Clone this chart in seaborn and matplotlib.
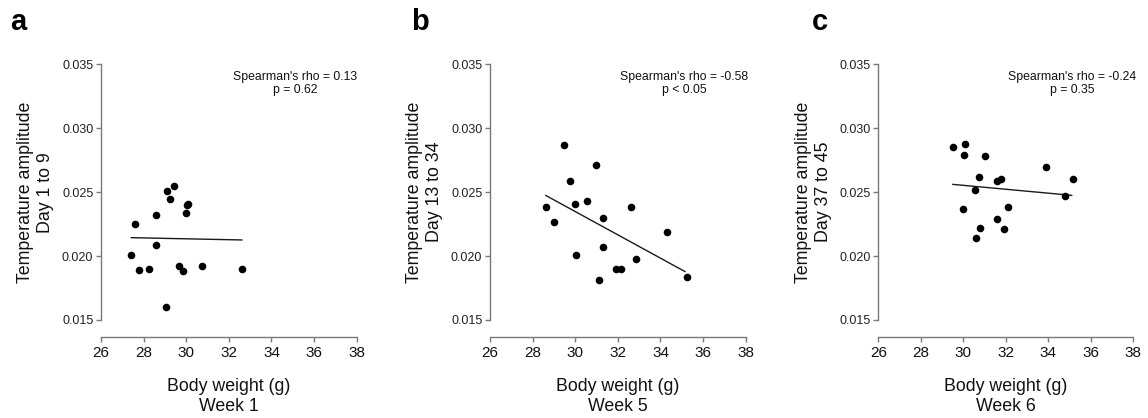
import matplotlib
matplotlib.use("Agg")
import matplotlib.pyplot as plt
import seaborn as sns
import pandas as pd
import numpy as np

sns.set_theme(style="white")
plt.rcParams['font.family'] = ['Liberation Sans', 'DejaVu Sans']

# ---------------- data ----------------
weight_w1 = [27.41, 27.60, 27.77, 28.24, 28.57, 28.60, 29.05, 29.10, 29.25, 29.43,
             29.65, 29.83, 29.97, 30.03, 30.07, 30.74, 32.62]
amp_d1_9 = [0.0201, 0.0225, 0.0189, 0.0190, 0.0209, 0.0232, 0.0160, 0.0251, 0.0245, 0.0255,
            0.0192, 0.0188, 0.0234, 0.0240, 0.0241, 0.0192, 0.0190]

weight_w5 = [28.61, 29.00, 29.47, 29.74, 29.99, 30.04, 30.54, 30.96, 31.12, 31.29,
             31.32, 31.93, 32.13, 32.64, 32.87, 34.29, 35.23]
amp_d13_34 = [0.0238, 0.0227, 0.0287, 0.0259, 0.0241, 0.0201, 0.0243, 0.0271, 0.0181, 0.0230,
              0.0207, 0.0190, 0.0190, 0.0238, 0.0198, 0.0219, 0.0184]

weight_w6 = [29.50, 30.09, 30.05, 31.04, 30.75, 30.56, 31.60, 31.79, 30.00, 30.78,
             30.61, 31.58, 31.90, 32.10, 33.89, 34.80, 35.18]
amp_d37_45 = [0.0285, 0.0288, 0.0279, 0.0278, 0.0262, 0.0252, 0.0259, 0.0260, 0.0237, 0.0222,
              0.0214, 0.0229, 0.0221, 0.0238, 0.0270, 0.0247, 0.0260]

# fitted trend lines (endpoints)
fit_x_a = [27.41, 32.62]
fit_y_a = [0.02144, 0.02126]
fit_x_b = [28.61, 35.16]
fit_y_b = [0.02475, 0.01878]
fit_x_c = [29.50, 35.11]
fit_y_c = [0.02561, 0.02475]

panel_letters = ["a", "b", "c"]
ylabels = ["Temperature amplitude\nDay 1 to 9",
           "Temperature amplitude\nDay 13 to 34",
           "Temperature amplitude\nDay 37 to 45"]
xlabels = ["Body weight (g)\nWeek 1", "Body weight (g)\nWeek 5", "Body weight (g)\nWeek 6"]
stats = ["Spearman's rho = 0.13\np = 0.62",
         "Spearman's rho = -0.58\np < 0.05",
         "Spearman's rho = -0.24\np = 0.35"]
xticks = [26, 28, 30, 32, 34, 36, 38]
yticks = [0.015, 0.020, 0.025, 0.030, 0.035]

# ---------------- figure ----------------
W, H = 1148, 418
fig = plt.figure(figsize=(W / 100, H / 100), dpi=100)

lefts = [101, 490, 878.3]
widths = [255.7, 255.7, 255.0]
top_px, bottom_px = 64.3, 337.0
letter_x = [10, 411, 812]

datasets = [(weight_w1, amp_d1_9, fit_x_a, fit_y_a),
            (weight_w5, amp_d13_34, fit_x_b, fit_y_b),
            (weight_w6, amp_d37_45, fit_x_c, fit_y_c)]

spine_col = "#7a7a7a"
y_px_per_unit = (320.0 - 64.3) / 0.020
ylo = 0.015 - (bottom_px - 320.0) / y_px_per_unit

for i, (xs, ys, fx, fy) in enumerate(datasets):
    ax = fig.add_axes([lefts[i] / W, (H - bottom_px) / H, widths[i] / W, (bottom_px - top_px) / H])
    df = pd.DataFrame({"x": xs, "y": ys})
    sns.scatterplot(data=df, x="x", y="y", ax=ax, color="black", s=30,
                    edgecolor="black", linewidth=0, zorder=3)
    fdf = pd.DataFrame({"x": fx, "y": fy})
    sns.lineplot(data=fdf, x="x", y="y", ax=ax, color="#1a1a1a", linewidth=1.0, zorder=2)

    ax.set_xlim(26, 38)
    ax.set_ylim(ylo, 0.035)
    ax.set_xticks(xticks)
    ax.set_yticks(yticks)
    ax.set_xticklabels([str(t) for t in xticks], fontsize=11, color="#111111")
    ax.set_yticklabels([f"{t:.3f}" for t in yticks], fontsize=9, color="#222222")
    ax.set_xlabel("")
    ax.set_ylabel("")
    for s in ["top", "right"]:
        ax.spines[s].set_visible(False)
    for s in ["left", "bottom"]:
        ax.spines[s].set_color(spine_col)
        ax.spines[s].set_linewidth(1.0)
    ax.spines["left"].set_bounds(0.015, 0.035)
    ax.spines["bottom"].set_bounds(26, 38)
    ax.tick_params(axis="both", which="both", direction="out", length=3.5, width=1.0,
                   color=spine_col, left=True, bottom=True, pad=2)
    ax.tick_params(axis="x", pad=3)
    ax.patch.set_alpha(0)

    # stats annotation
    ax.text(0.76, 0.975, stats[i], transform=ax.transAxes, ha="center", va="top",
            fontsize=8.8, color="#111111", linespacing=1.15)

    # y label (centered on spine bounds)
    cy = 1 - ((64.3 + 320) / 2 - top_px) / (bottom_px - top_px)
    ax.text(-0.255, cy, ylabels[i], transform=ax.transAxes, rotation=90,
            ha="center", va="center", fontsize=12.8, color="#111111", linespacing=1.25)
    # x label
    ax.text(0.5, -0.15, xlabels[i], transform=ax.transAxes, ha="center", va="top",
            fontsize=12.8, color="#111111", linespacing=1.2)

    fig.text(letter_x[i] / W, 1 - 30 / H, panel_letters[i], fontsize=21,
             fontweight="bold", ha="left", va="baseline", color="black")

fig.savefig("out.png", dpi=100)
